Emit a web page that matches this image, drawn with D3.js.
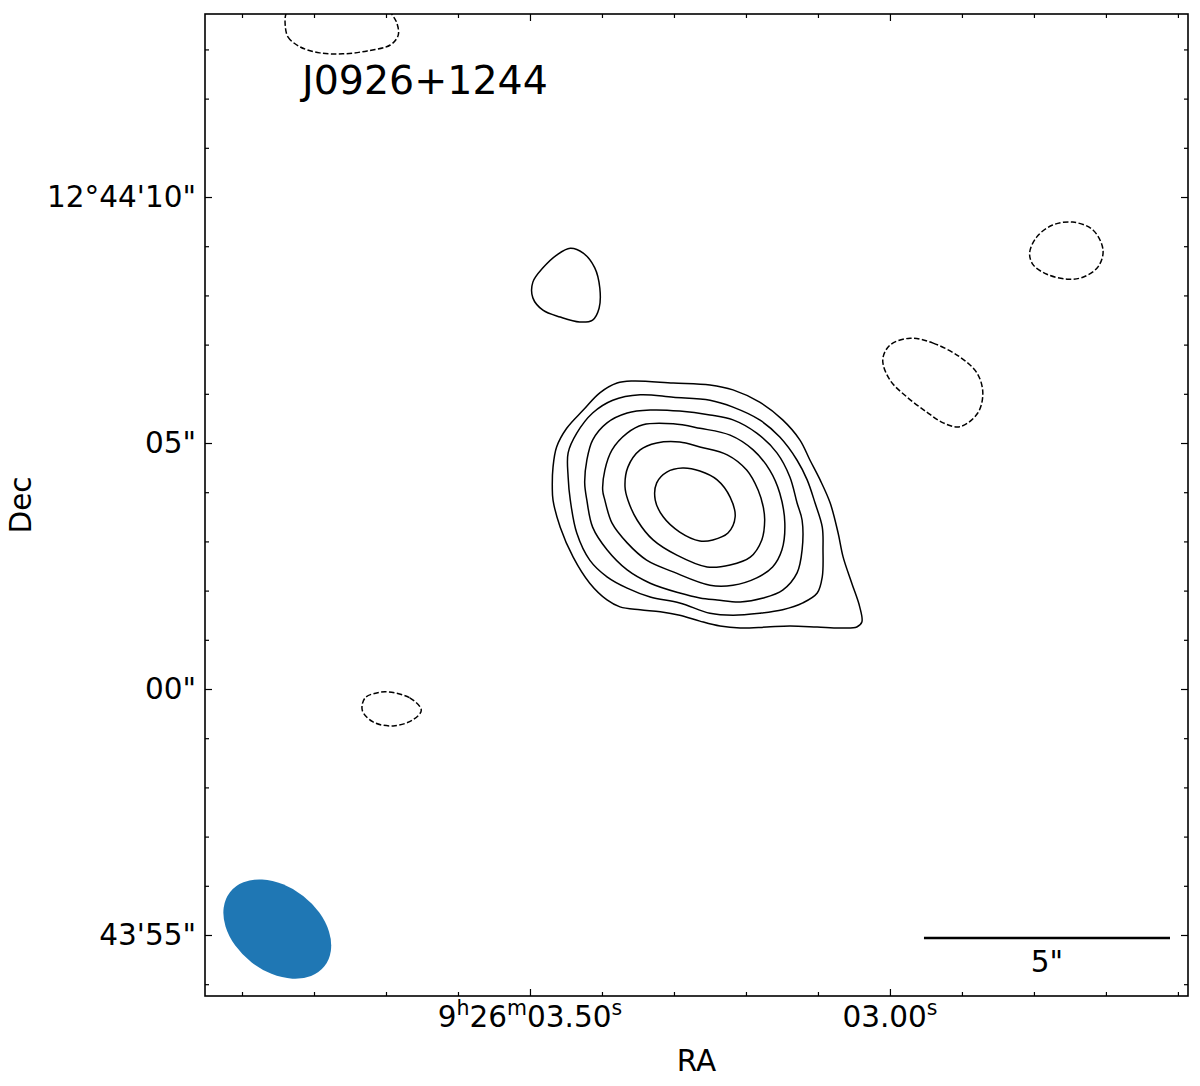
<!DOCTYPE html>
<html>
<head>
<meta charset="utf-8">
<script src="https://cdn.jsdelivr.net/npm/d3@7"></script>
<style>
  html, body { margin: 0; padding: 0; background: #fff; }
  svg { display: block; font-family: "DejaVu Sans", sans-serif; }
</style>
</head>
<body>
<svg id="chart" width="1200" height="1086"></svg>
<script>
// ---------------- DATA ----------------
// RA in seconds of 9h26m, Dec in arcsec offset from +12°44'00"
const raDomain = [3.9514, 2.586];
const decDomain = [-6.24, 13.72];

const raMajorTicks = [3.5, 3.0];
const raMajorLabels = ["9^h26^m03.50^s", "03.00^s"];
const raMinorTicks = [3.9, 3.8, 3.7, 3.6, 3.4, 3.3, 3.2, 3.1, 2.9, 2.8, 2.7, 2.6];

const decMajorTicks = [10, 5, 0, -5];
const decMajorLabels = ["12°44'10\"", "05\"", "00\"", "43'55\""];
const decMinorTicks = [13, 12, 11, 9, 8, 7, 6, 4, 3, 2, 1, -1, -2, -3, -4, -6];

const sourceName = "J0926+1244";

// positive contour levels (solid), outermost to innermost
const contour1 = [[3.379,6.22],[3.357,6.26],[3.301,6.22],[3.250,6.18],[3.218,6.08],[3.181,5.83],[3.149,5.47],[3.125,5.06],[3.111,4.65],[3.097,4.25],[3.083,3.78],[3.072,3.17],[3.065,2.68],[3.053,2.15],[3.042,1.67],[3.039,1.36],[3.046,1.26],[3.069,1.24],[3.101,1.26],[3.139,1.28],[3.171,1.26],[3.208,1.24],[3.236,1.28],[3.264,1.38],[3.292,1.50],[3.319,1.57],[3.347,1.61],[3.375,1.67],[3.393,1.81],[3.417,2.15],[3.440,2.68],[3.458,3.29],[3.468,3.84],[3.469,4.11],[3.468,4.51],[3.463,4.92],[3.449,5.30],[3.426,5.67],[3.403,6.02]];
const contour2 = [[3.385,5.87],[3.347,5.98],[3.301,5.93],[3.250,5.87],[3.218,5.73],[3.181,5.47],[3.153,5.12],[3.129,4.65],[3.115,4.25],[3.104,3.78],[3.094,3.29],[3.093,2.83],[3.094,2.28],[3.101,1.95],[3.121,1.75],[3.149,1.61],[3.181,1.54],[3.218,1.50],[3.250,1.54],[3.292,1.75],[3.333,1.87],[3.365,2.05],[3.393,2.28],[3.417,2.62],[3.435,3.17],[3.444,3.84],[3.447,4.31],[3.447,4.80],[3.435,5.20],[3.413,5.61]];
const contour3 = [[3.365,5.61],[3.333,5.67],[3.292,5.65],[3.250,5.57],[3.218,5.47],[3.185,5.20],[3.157,4.80],[3.139,4.31],[3.129,3.78],[3.122,3.43],[3.122,2.83],[3.129,2.36],[3.149,2.01],[3.176,1.85],[3.208,1.77],[3.240,1.81],[3.264,1.85],[3.292,1.95],[3.333,2.15],[3.365,2.42],[3.393,2.83],[3.413,3.29],[3.421,3.84],[3.424,4.19],[3.421,4.65],[3.413,5.06],[3.393,5.41]];
const contour4 = [[3.365,5.20],[3.343,5.37],[3.301,5.39],[3.264,5.30],[3.222,5.16],[3.190,4.86],[3.167,4.45],[3.153,3.98],[3.146,3.37],[3.150,2.83],[3.163,2.48],[3.185,2.26],[3.218,2.11],[3.250,2.11],[3.301,2.38],[3.338,2.62],[3.365,2.97],[3.386,3.37],[3.396,3.84],[3.399,4.04],[3.396,4.45],[3.386,4.86]];
const contour5 = [[3.347,4.86],[3.324,5.00],[3.292,5.02],[3.264,4.92],[3.226,4.76],[3.199,4.45],[3.183,4.04],[3.176,3.70],[3.174,3.43],[3.178,3.03],[3.194,2.68],[3.222,2.52],[3.254,2.48],[3.296,2.72],[3.329,3.03],[3.351,3.43],[3.364,3.84],[3.368,4.11],[3.364,4.51]];
const contour6 = [[3.310,4.41],[3.288,4.49],[3.264,4.43],[3.240,4.25],[3.222,3.90],[3.215,3.50],[3.225,3.17],[3.246,3.03],[3.264,3.01],[3.292,3.19],[3.315,3.50],[3.326,3.84],[3.324,4.19]];
const contourNorth = [[3.444,8.96],[3.426,8.86],[3.410,8.56],[3.403,8.15],[3.404,7.74],[3.413,7.50],[3.431,7.46],[3.458,7.56],[3.482,7.70],[3.496,7.95],[3.496,8.27],[3.482,8.56],[3.463,8.82]];

// negative contour level (dashed)
const negTop = [[3.840,13.50],[3.836,13.25],[3.819,13.05],[3.792,12.93],[3.760,12.91],[3.726,12.97],[3.694,13.09],[3.683,13.29],[3.685,13.54],[3.692,13.72],[3.701,13.92],[3.764,14.04],[3.831,13.92],[3.839,13.72]];
const negUpperRight = [[2.746,9.49],[2.718,9.33],[2.704,8.92],[2.711,8.58],[2.732,8.37],[2.754,8.33],[2.782,8.43],[2.801,8.62],[2.806,8.86],[2.796,9.19],[2.774,9.43]];
const negRight = [[2.972,7.13],[2.940,7.03],[2.903,6.75],[2.879,6.42],[2.871,6.02],[2.878,5.61],[2.903,5.33],[2.926,5.41],[2.949,5.63],[2.976,5.93],[3.000,6.28],[3.010,6.69],[3.000,6.99]];
const negLowerLeft = [[3.697,-0.06],[3.667,-0.18],[3.651,-0.43],[3.663,-0.63],[3.690,-0.75],[3.718,-0.67],[3.733,-0.43],[3.729,-0.18],[3.713,-0.08]];

const positiveContours = [contour1, contour2, contour3, contour4, contour5, contour6, contourNorth];
const negativeContours = [negTop, negUpperRight, negRight, negLowerLeft];

// synthesized beam: centre [RA s, Dec "], major/minor FWHM (arcsec), PA (deg E of N)
const beamCenter = [3.851, -4.88];
const beamAxes = [2.44, 1.71];
const beamPA = 52;

// scale bar: right end [RA s, Dec "], length arcsec
const scaleBarEnd = [2.611, -5.06];
const scaleBarLength = 5;
const scaleBarLabel = "5\"";
const decDeg = 12.735;

// ---------------- LAYOUT ----------------
const L = 205, R = 1188, T = 14, B = 996;
const FS = 29.5;
const svg = d3.select("#chart");
const x = d3.scaleLinear().domain(raDomain).range([L, R]);
const y = d3.scaleLinear().domain(decDomain).range([B, T]);
const pxPerArcsec = (B - T) / (decDomain[1] - decDomain[0]);

svg.append("defs").append("clipPath").attr("id", "plotclip")
  .append("rect").attr("x", L).attr("y", T).attr("width", R - L).attr("height", B - T);

const plot = svg.append("g").attr("clip-path", "url(#plotclip)");

const line = d3.line()
  .x(d => x(d[0])).y(d => y(d[1]))
  .curve(d3.curveCatmullRomClosed.alpha(0.5));

plot.selectAll("path.pos").data(positiveContours).join("path")
  .attr("class", "pos")
  .attr("d", line)
  .attr("fill", "none").attr("stroke", "#000").attr("stroke-width", 1.5);

plot.selectAll("path.neg").data(negativeContours).join("path")
  .attr("class", "neg")
  .attr("d", line)
  .attr("fill", "none").attr("stroke", "#000").attr("stroke-width", 1.5)
  .attr("stroke-dasharray", "5.5,2.4");

// beam
plot.append("ellipse")
  .attr("cx", 0).attr("cy", 0)
  .attr("rx", beamAxes[0] / 2 * pxPerArcsec)
  .attr("ry", beamAxes[1] / 2 * pxPerArcsec)
  .attr("transform", `translate(${x(beamCenter[0])},${y(beamCenter[1])}) rotate(${90 - beamPA})`)
  .attr("fill", "#1f77b4");

// scale bar
const raLenSec = scaleBarLength / (15 * Math.cos(decDeg * Math.PI / 180));
const sbX2 = x(scaleBarEnd[0]);
const sbX1 = x(scaleBarEnd[0] + raLenSec);
const sbY = y(scaleBarEnd[1]);
svg.append("line").attr("x1", sbX1).attr("x2", sbX2).attr("y1", sbY).attr("y2", sbY)
  .attr("stroke", "#000").attr("stroke-width", 2.5);
svg.append("text").attr("x", (sbX1 + sbX2) / 2).attr("y", sbY + 34)
  .attr("text-anchor", "middle").attr("font-size", FS).text(scaleBarLabel);

// title
svg.append("text").attr("x", 302).attr("y", 94).attr("font-size", 39.5).text(sourceName);

// ---------------- AXES ----------------
function styleAxis(g) {
  g.select(".domain").remove();
  g.selectAll(".tick line").attr("stroke", "#000").attr("stroke-width", 1.2);
}
// bottom
svg.append("g").attr("transform", `translate(0,${B})`)
  .call(d3.axisBottom(x).tickValues(raMajorTicks).tickSize(-7).tickFormat("")).call(styleAxis);
svg.append("g").attr("transform", `translate(0,${B})`)
  .call(d3.axisBottom(x).tickValues(raMinorTicks).tickSize(-4).tickFormat("")).call(styleAxis);
// top
svg.append("g").attr("transform", `translate(0,${T})`)
  .call(d3.axisTop(x).tickValues(raMajorTicks).tickSize(-7).tickFormat("")).call(styleAxis);
svg.append("g").attr("transform", `translate(0,${T})`)
  .call(d3.axisTop(x).tickValues(raMinorTicks).tickSize(-4).tickFormat("")).call(styleAxis);
// left
const gL = svg.append("g").attr("transform", `translate(${L},0)`)
  .call(d3.axisLeft(y).tickValues(decMajorTicks).tickSize(-7).tickPadding(9)
    .tickFormat((d, i) => decMajorLabels[i]));
styleAxis(gL);
gL.selectAll(".tick text").attr("font-size", FS).attr("font-family", "DejaVu Sans").attr("fill", "#000");
svg.append("g").attr("transform", `translate(${L},0)`)
  .call(d3.axisLeft(y).tickValues(decMinorTicks).tickSize(-4).tickFormat("")).call(styleAxis);
// right
svg.append("g").attr("transform", `translate(${R},0)`)
  .call(d3.axisRight(y).tickValues(decMajorTicks).tickSize(-7).tickFormat("")).call(styleAxis);
svg.append("g").attr("transform", `translate(${R},0)`)
  .call(d3.axisRight(y).tickValues(decMinorTicks).tickSize(-4).tickFormat("")).call(styleAxis);

// RA labels with superscripts
raMajorTicks.forEach((v, i) => {
  const t = svg.append("text").attr("x", x(v)).attr("y", 1027)
    .attr("text-anchor", "middle").attr("font-size", FS);
  const parts = raMajorLabels[i].split(/(\^.)/).filter(s => s.length);
  let raised = false;
  parts.forEach(p => {
    if (p[0] === "^") {
      t.append("tspan").attr("font-size", 20.5).attr("dy", -12).text(p[1]);
      raised = true;
    } else {
      const ts = t.append("tspan").text(p);
      if (raised) { ts.attr("dy", 12); raised = false; }
    }
  });
});

// frame
svg.append("rect").attr("x", L).attr("y", T).attr("width", R - L).attr("height", B - T)
  .attr("fill", "none").attr("stroke", "#000").attr("stroke-width", 1.6);

// axis titles
svg.append("text").attr("x", (L + R) / 2).attr("y", 1071).attr("text-anchor", "middle")
  .attr("font-size", FS).text("RA");
svg.append("text").attr("transform", `translate(31,${(T + B) / 2}) rotate(-90)`)
  .attr("text-anchor", "middle").attr("font-size", FS).text("Dec");
</script>
</body>
</html>
